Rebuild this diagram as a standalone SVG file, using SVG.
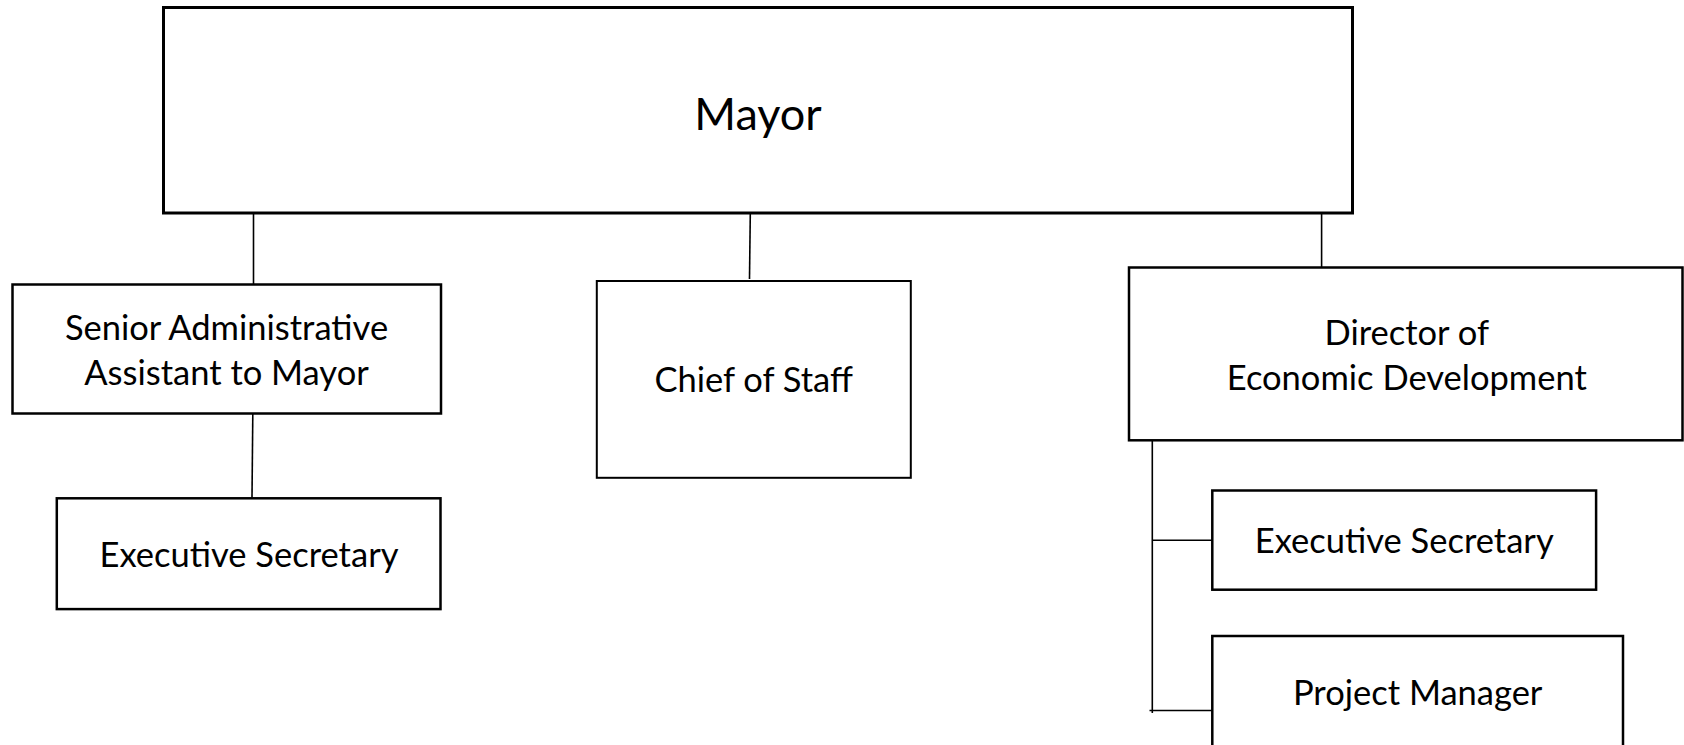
<svg xmlns="http://www.w3.org/2000/svg" width="1684" height="745" viewBox="0 0 1684 745">
  <style>
    .box { fill: #ffffff; stroke: #000000; stroke-width: 2.5; }
    .box-top { fill: #ffffff; stroke: #000000; stroke-width: 3; }
    .box-thin { fill: #ffffff; stroke: #000000; stroke-width: 2; }
    .link { fill: none; stroke: #000000; stroke-width: 1.6; }
    text { font-family: "Lato", "Carlito", "Liberation Sans", sans-serif; fill: #000000; text-anchor: middle; }
    .label { font-size: 34.5px; }
    .title { font-size: 45px; }
  </style>
  <rect width="1684" height="745" fill="#ffffff"/>

  <!-- reporting lines -->
  <g id="connectors">
    <line class="link" x1="253.5" y1="213" x2="253.5" y2="284.5"/>
    <line class="link" x1="252.8" y1="414" x2="252" y2="498"/>
    <line class="link" x1="750.3" y1="213" x2="749.5" y2="279"/>
    <line class="link" x1="1321.6" y1="213" x2="1321.6" y2="267.5"/>
    <line class="link" x1="1152.3" y1="441" x2="1152.3" y2="713"/>
    <line class="link" x1="1152.3" y1="540.2" x2="1212" y2="540.2"/>
    <line class="link" x1="1149.5" y1="710.5" x2="1212" y2="710.5"/>
  </g>

  <g id="mayor">
    <rect class="box-top" x="163.5" y="7.5" width="1189" height="205.5"/>
    <text class="title" x="758" y="130">Mayor</text>
  </g>

  <g id="senior-admin-assistant">
    <rect class="box" x="12.5" y="284.5" width="428.5" height="129"/>
    <text class="label" x="226.5" y="340">Senior Administrative</text>
    <text class="label" x="226.5" y="385">Assistant to Mayor</text>
  </g>

  <g id="executive-secretary-mayor">
    <rect class="box" x="56.8" y="498.3" width="383.7" height="110.8"/>
    <text class="label" x="249" y="566.5">Executive Secretary</text>
  </g>

  <g id="chief-of-staff">
    <rect class="box-thin" x="596.8" y="281" width="314" height="196.8"/>
    <text class="label" x="753.7" y="392.3">Chief of Staff</text>
  </g>

  <g id="director-economic-development">
    <rect class="box" x="1129" y="267.5" width="553.5" height="172.8"/>
    <text class="label" x="1406.8" y="345">Director of</text>
    <text class="label" x="1406.8" y="390">Economic Development</text>
  </g>

  <g id="executive-secretary-director">
    <rect class="box" x="1212.3" y="490.5" width="383.8" height="99.2"/>
    <text class="label" x="1404.2" y="553.3">Executive Secretary</text>
  </g>

  <g id="project-manager">
    <rect class="box" x="1212.3" y="636" width="410.7" height="130"/>
    <text class="label" x="1417.7" y="705">Project Manager</text>
  </g>
</svg>
